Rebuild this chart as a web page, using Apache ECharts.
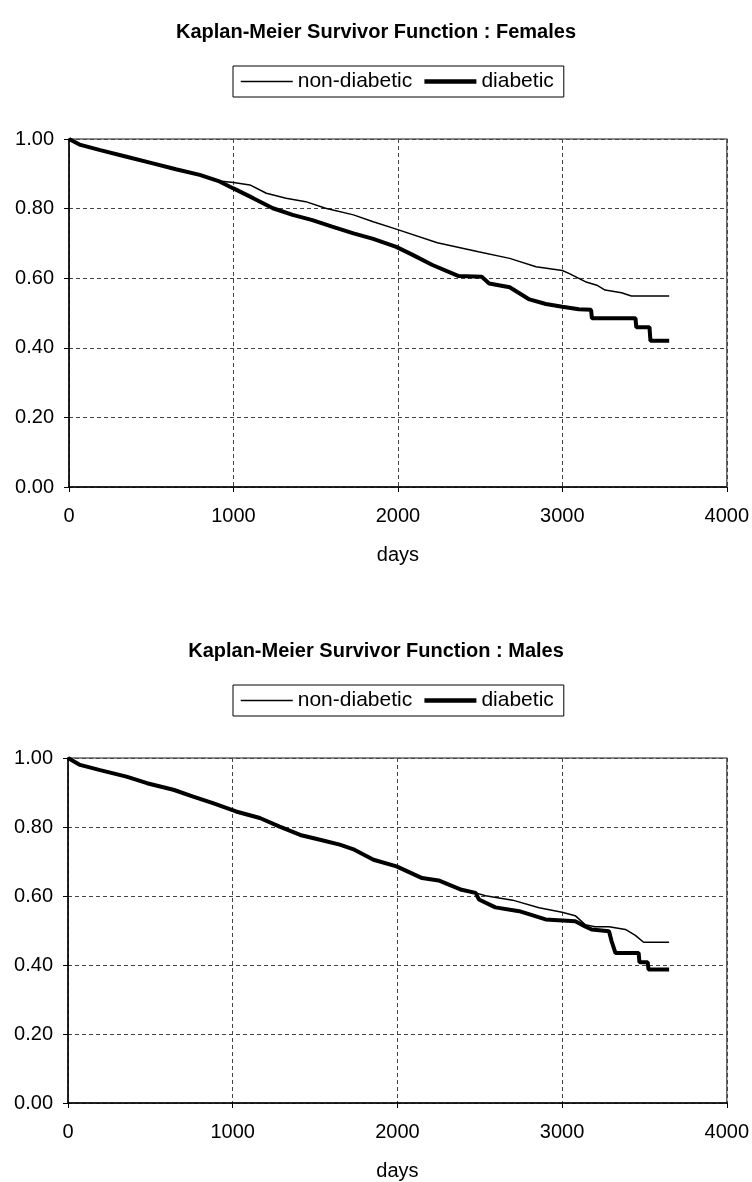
<!DOCTYPE html>
<html>
<head>
<meta charset="utf-8">
<script src="https://cdn.jsdelivr.net/npm/echarts@6/dist/echarts.min.js"></script>
<style>
  html, body { margin: 0; padding: 0; background: #fff; }
  #main { width: 752px; height: 1182px; }
</style>
</head>
<body>
<div id="main"></div>
<script>
// [days, survival]
var femaleNonDiabetic = [
  [0, 1.0], [70, 0.983], [190, 0.968], [350, 0.949], [510, 0.930], [650, 0.913],
  [795, 0.897], [915, 0.879], [1000, 0.875], [1100, 0.868], [1200, 0.844], [1320, 0.830],
  [1440, 0.820], [1560, 0.801], [1730, 0.782], [1850, 0.762], [1990, 0.741], [2240, 0.702],
  [2490, 0.676], [2680, 0.657], [2840, 0.633], [3000, 0.622], [3040, 0.614], [3140, 0.590],
  [3210, 0.580], [3260, 0.566], [3360, 0.558], [3420, 0.549], [3650, 0.549]
];
var femaleDiabetic = [
  [0, 1.0], [70, 0.983], [190, 0.968], [350, 0.949], [510, 0.930], [650, 0.913],
  [795, 0.897], [915, 0.878], [1000, 0.858], [1120, 0.830], [1240, 0.801], [1360, 0.782],
  [1480, 0.767], [1600, 0.748], [1730, 0.729], [1850, 0.713], [1990, 0.690], [2090, 0.667],
  [2210, 0.638], [2370, 0.606], [2510, 0.604], [2555, 0.585], [2680, 0.574], [2800, 0.539],
  [2900, 0.526], [3000, 0.518], [3100, 0.511], [3175, 0.509], [3180, 0.485], [3445, 0.485],
  [3450, 0.459], [3530, 0.459], [3536, 0.420], [3650, 0.420]
];
var maleNonDiabetic = [
  [0, 1.0], [73, 0.980], [195, 0.965], [355, 0.946], [480, 0.927], [640, 0.908],
  [760, 0.888], [880, 0.869], [1020, 0.845], [1165, 0.826], [1285, 0.801], [1410, 0.777],
  [1530, 0.763], [1650, 0.749], [1730, 0.736], [1855, 0.705], [1995, 0.686], [2150, 0.652],
  [2250, 0.645], [2390, 0.618], [2475, 0.609], [2535, 0.601], [2700, 0.588], [2860, 0.566],
  [3000, 0.553], [3080, 0.543], [3140, 0.517], [3200, 0.511], [3285, 0.511], [3385, 0.503],
  [3445, 0.486], [3495, 0.466], [3650, 0.466]
];
var maleDiabetic = [
  [0, 1.0], [73, 0.980], [195, 0.965], [355, 0.946], [480, 0.927], [640, 0.908],
  [760, 0.888], [880, 0.869], [1020, 0.845], [1165, 0.826], [1285, 0.801], [1410, 0.777],
  [1530, 0.763], [1650, 0.749], [1730, 0.736], [1855, 0.705], [1995, 0.686], [2150, 0.652],
  [2250, 0.645], [2390, 0.618], [2475, 0.609], [2495, 0.590], [2595, 0.567], [2740, 0.556],
  [2900, 0.532], [3080, 0.527], [3140, 0.512], [3180, 0.503], [3285, 0.498], [3300, 0.470],
  [3324, 0.435], [3465, 0.435], [3470, 0.408], [3520, 0.408], [3525, 0.387], [3650, 0.387]
];
var panelTitles = ['Kaplan-Meier Survivor Function : Females', 'Kaplan-Meier Survivor Function : Males'];
var seriesNames = ['non-diabetic', 'diabetic'];

var font = 'Liberation Sans, Arial, sans-serif';

function xAxisFor(i) {
  return {
    type: 'value', gridIndex: i, min: 0, max: 4000, interval: 1000,
    name: 'days', nameLocation: 'middle', nameGap: 58,
    nameTextStyle: { color: '#000', fontSize: 20, fontFamily: font },
    axisLine: { show: true, onZero: false, lineStyle: { color: '#000', width: 1.5 } },
    axisTick: { show: true, length: 5, inside: false, lineStyle: { color: '#000' } },
    axisLabel: {
      color: '#000', fontSize: 20, fontFamily: font, margin: 19,
      formatter: function (v) { return String(v); }
    },
    splitLine: { show: true, lineStyle: { color: '#444', type: [4, 3], width: 1 } }
  };
}
function yAxisFor(i) {
  return {
    type: 'value', gridIndex: i, min: 0, max: 1, interval: 0.2,
    axisLine: { show: true, lineStyle: { color: '#000', width: 1.5 } },
    axisTick: { show: true, length: 5, lineStyle: { color: '#000' } },
    axisLabel: {
      color: '#000', fontSize: 20, fontFamily: font, margin: 15,
      formatter: function (v) { return v.toFixed(2); }
    },
    splitLine: { show: true, lineStyle: { color: '#444', type: [4, 3], width: 1 } }
  };
}
function lineSeries(name, data, i, width) {
  return {
    name: name, type: 'line', xAxisIndex: i, yAxisIndex: i,
    data: data, showSymbol: false, symbol: 'none', animation: false,
    itemStyle: { color: '#000' },
    lineStyle: { color: '#000', width: width }
  };
}
function legendFor(top) {
  return {
    left: 233, top: top, orient: 'horizontal',
    data: [
      { name: seriesNames[0], lineStyle: { width: 1.5, color: '#000' } },
      { name: seriesNames[1], lineStyle: { width: 4.5, color: '#000' } }
    ],
    itemWidth: 52, itemHeight: 14, itemGap: 10,
    padding: [5, 10, 5, 7],
    borderColor: '#000', borderWidth: 1,
    itemStyle: { opacity: 0 },
    textStyle: { color: '#000', fontSize: 21, fontFamily: font },
    selectedMode: false
  };
}

var chart = echarts.init(document.getElementById('main'));
chart.setOption({
  backgroundColor: '#fff',
  animation: false,
  title: [
    { text: panelTitles[0], left: 'center', top: 17,
      textStyle: { color: '#000', fontSize: 20, fontWeight: 'bold', fontFamily: font } },
    { text: panelTitles[1], left: 'center', top: 636,
      textStyle: { color: '#000', fontSize: 20, fontWeight: 'bold', fontFamily: font } }
  ],
  legend: [legendFor(66), legendFor(685)],
  grid: [
    { left: 69, right: 24, top: 139, height: 348, show: true, borderColor: '#666', borderWidth: 1.5 },
    { left: 68, right: 24, top: 758, height: 346, show: true, borderColor: '#666', borderWidth: 1.5 }
  ],
  xAxis: [xAxisFor(0), xAxisFor(1)],
  yAxis: [yAxisFor(0), yAxisFor(1)],
  series: [
    lineSeries(seriesNames[0], femaleNonDiabetic, 0, 1.5),
    lineSeries(seriesNames[1], femaleDiabetic, 0, 4),
    lineSeries(seriesNames[0], maleNonDiabetic, 1, 1.5),
    lineSeries(seriesNames[1], maleDiabetic, 1, 4)
  ]
});
</script>
</body>
</html>
